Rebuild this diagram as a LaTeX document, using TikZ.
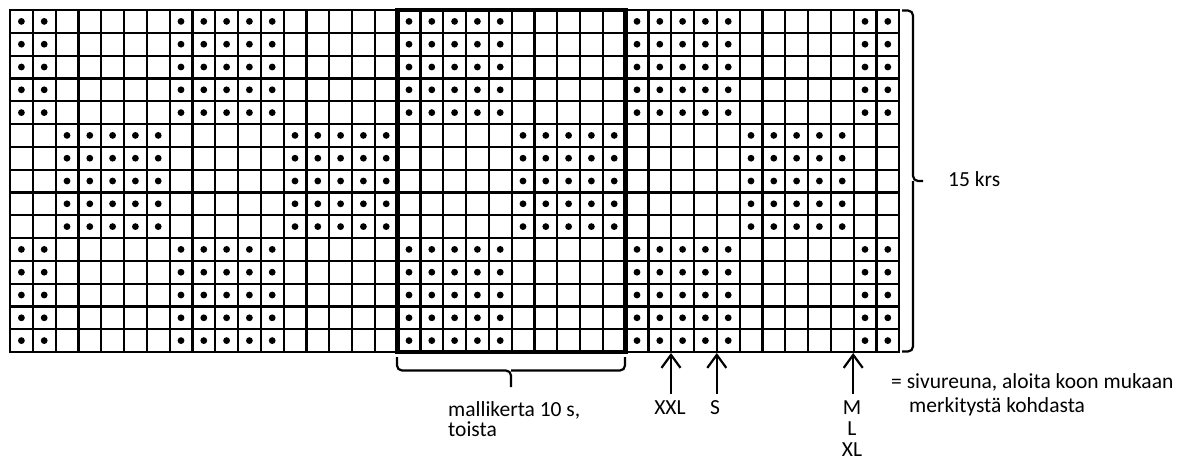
\documentclass[tikz,border=0pt]{standalone}
\usepackage{fontspec}
\setmainfont{Carlito}
\usetikzlibrary{arrows.meta}
\begin{document}
\begin{tikzpicture}[x=1pt,y=-1pt,
  gridline/.style={line width=2.2pt,line cap=rect},
  repbox/.style={line width=4.5pt},
  bracepath/.style={line width=2.2pt,rounded corners=5pt},
  sizearrow/.style={line width=2.2pt,-{Straight Barb[length=13pt,width=19pt,line width=2.2pt]}},
  lbl/.style={inner sep=0pt,font=\fontsize{21.5}{22}\selectfont}]
\useasboundingbox (0,0) rectangle (1186,461);
% grid
\foreach \i in {0,...,39}{\draw[gridline] ({10+\i*22.8},10) -- ({10+\i*22.8},352);}
\foreach \j in {0,...,15}{\draw[gridline] (10,{10+\j*22.8}) -- (899.2,{10+\j*22.8});}
% dots
\foreach \c in {0,...,38}{
  \pgfmathtruncatemacro\m{mod(\c+3,10)}
  \ifnum\m<5 \def\rowlist{0,1,2,3,4,10,11,12,13,14}\else\def\rowlist{5,6,7,8,9}\fi
  \foreach \r in \rowlist {\fill ({10+(\c+0.5)*22.8},{10+(\r+0.5)*22.8}) circle (3.4pt);}
}
% repeat box
\draw[repbox] (397.6,10) rectangle (625.6,352);
% bottom brace
\coordinate (bl) at (397,357);
\coordinate (br) at (625,357);
\coordinate (bt) at (511,387);
\draw[bracepath] (bl) -- (397,370.5) -- (511,370.5) -- (bt);
\draw[bracepath] (br) -- (625,370.5) -- (511,370.5);
% right brace
\coordinate (rt) at (902,10.5);
\coordinate (rb) at (902,351.5);
\coordinate (rtip) at (923,181);
\draw[bracepath] (rt) -- (913,10.5) -- (913,181) -- (rtip);
\draw[bracepath] (rb) -- (913,351.5) -- (913,181);
\node[lbl,anchor=base west] (rows) at (948,186) {15 krs};
% repeat label (base anchor = last line)
\node[lbl,anchor=base west,align=left,font=\fontsize{21.5}{20}\selectfont] (rep) at (448,436) {mallikerta 10 s,\\toista};
% arrows
\coordinate (xxltip) at (671,353);
\coordinate (xxltail) at (671,394);
\coordinate (stip) at (716.8,353);
\coordinate (stail) at (716.8,394);
\coordinate (mtip) at (853.2,353);
\coordinate (mtail) at (853.2,394);
\draw[sizearrow] (xxltail) -- (xxltip);
\draw[sizearrow] (stail) -- (stip);
\draw[sizearrow] (mtail) -- (mtip);
\node[lbl,anchor=base] (xxl) at (670,414) {XXL};
\node[lbl,anchor=base] (s) at (715,414) {S};
\node[lbl,anchor=base,align=center,font=\fontsize{21.5}{21}\selectfont] (mlxl) at (852,456) {M\\L\\XL};
\node[lbl,anchor=base west,align=left,font=\fontsize{21.5}{24}\selectfont] (note) at (891,412) {= sivureuna, aloita koon mukaan\\\hspace*{18pt}merkitystä kohdasta};
\end{tikzpicture}
\end{document}
